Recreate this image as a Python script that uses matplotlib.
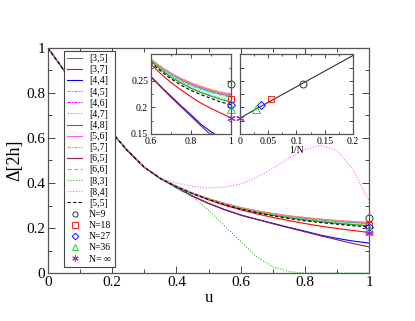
import numpy as np
import matplotlib
matplotlib.use('Agg')
from matplotlib import pyplot as plt
from matplotlib.ticker import MultipleLocator

plt.rcParams['font.family'] = ['Liberation Serif', 'DejaVu Serif']

# u grid
u = [0.0, 0.05, 0.1, 0.15, 0.2, 0.25, 0.3, 0.35, 0.4, 0.45, 0.5, 0.55, 0.6,
     0.65, 0.7, 0.75, 0.8, 0.85, 0.9, 0.95, 1.0]

# common part of all curves (u = 0 .. 0.35)
head = [1.0, 0.90, 0.805, 0.712, 0.622, 0.54, 0.47, 0.42]

# tails (u = 0.4 .. 1.0)
t35 = [0.385, 0.355, 0.33, 0.308, 0.290, 0.275, 0.263, 0.252, 0.243, 0.236, 0.230, 0.225, 0.221]
t37 = [0.384, 0.352, 0.325, 0.301, 0.281, 0.263, 0.247, 0.233, 0.220, 0.208, 0.198, 0.189, 0.180]
t44 = [0.380, 0.342, 0.310, 0.282, 0.258, 0.239, 0.221, 0.203, 0.186, 0.168, 0.154, 0.142, 0.133]
t45 = [0.385, 0.355, 0.33, 0.308, 0.289, 0.274, 0.261, 0.250, 0.241, 0.234, 0.228, 0.223, 0.219]
t46 = [0.385, 0.355, 0.33, 0.309, 0.290, 0.276, 0.264, 0.254, 0.245, 0.238, 0.232, 0.227, 0.224]
t47 = [0.385, 0.354, 0.329, 0.307, 0.288, 0.272, 0.259, 0.248, 0.238, 0.230, 0.223, 0.218, 0.214]
t48 = [0.385, 0.354, 0.329, 0.306, 0.287, 0.271, 0.257, 0.246, 0.236, 0.228, 0.221, 0.215, 0.210]
t56 = [0.385, 0.355, 0.33, 0.309, 0.291, 0.276, 0.264, 0.254, 0.246, 0.239, 0.233, 0.228, 0.225]
t57 = [0.385, 0.355, 0.33, 0.309, 0.291, 0.277, 0.265, 0.255, 0.247, 0.240, 0.234, 0.229, 0.226]
t65 = [0.380, 0.341, 0.309, 0.281, 0.257, 0.238, 0.219, 0.201, 0.183, 0.165, 0.148, 0.131, 0.116]
t66 = [0.385, 0.355, 0.33, 0.308, 0.290, 0.275, 0.263, 0.252, 0.244, 0.237, 0.231, 0.226, 0.222]
t83 = [0.378, 0.338, 0.28, 0.21, 0.14, 0.072, 0.028, 0.006, 0.0, 0.0, 0.0, 0.0, 0.0]
t84 = [0.400, 0.385, 0.378, 0.382, 0.395, 0.425, 0.465, 0.510, 0.548, 0.568, 0.545, 0.460, 0.320]
t55 = [0.384, 0.353, 0.327, 0.304, 0.284, 0.268, 0.254, 0.242, 0.232, 0.224, 0.217, 0.210, 0.205]

labels = ['[3,5]', '[3,7]', '[4,4]', '[4,5]', '[4,6]', '[4,7]', '[4,8]',
          '[5,6]', '[5,7]', '[6,5]', '[6,6]', '[8,3]', '[8,4]', '[5,5]']
tails = [t35, t37, t44, t45, t46, t47, t48, t56, t57, t65, t66, t83, t84, t55]
colors = ['#6e6e6e', '#ff0000', '#0000ff', '#00e0ee', '#ff00ff', '#66ee66', '#1f9a1f',
          '#ff55ff', '#ffa500', '#8b2252', '#bc9a9a', '#33bb33', '#ff66ff', '#000000']
styles = ['-', '-', '-', (0, (3, 1, 1, 1)), (0, (3, 1, 1, 1)), (0, (2, 1)), '-',
          '-', (0, (3, 1, 1, 1)), '-', (0, (4, 2)), (0, (1, 1.5)), (0, (1, 1.5)), (0, (3, 2))]

# finite size points at u = 1
N = [9, 18, 27, 36]
gap_N = [0.245, 0.215, 0.205, 0.196]
gap_inf = 0.180
mk_labels = ['N=9', 'N=18', 'N=27', 'N=36', 'N= ∞']
mk_styles = ['o', 's', 'D', '^', (6, 2, 0)]
mk_colors = ['#333333', '#ff2020', '#1010ff', '#22dd22', '#9933cc']
mk_sizes = [5, 5, 4.5, 5.5, 6]

# extrapolation line in 1/N
fit_x = [0.0, 0.2]
fit_y = [0.180, 0.298]

fig = plt.figure(figsize=(4.15, 3.21), dpi=100)
ax = fig.add_axes([0.1157, 0.1495, 0.7735, 0.701])


def style_axes(a, lab=8.5, maj=4, mnr=2):
    a.tick_params(which='both', direction='in', top=True, right=True, labelsize=lab,
                  width=0.7, color='#444444', pad=2)
    a.tick_params(which='major', length=maj)
    a.tick_params(which='minor', length=mnr)
    for s in a.spines.values():
        s.set_linewidth(0.9)
        s.set_color('#555555')


for lab, tl, c, ls in zip(labels, tails, colors, styles):
    ax.plot(u, head + tl, color=c, ls=ls, lw=0.8, label=lab)
for i in range(4):
    ax.plot([1.0], [gap_N[i]], ls='none', marker=mk_styles[i], mfc='none',
            mec=mk_colors[i], mew=0.7, ms=mk_sizes[i], label=mk_labels[i], clip_on=False)
ax.plot([1.0], [gap_inf], ls='none', marker=mk_styles[4], color=mk_colors[4],
        mew=0.8, ms=mk_sizes[4], label=mk_labels[4], clip_on=False)

ax.set_xlim(0, 1)
ax.set_ylim(0, 1)
ax.set_xticks([0, 0.2, 0.4, 0.6, 0.8, 1.0], ['0', '0.2', '0.4', '0.6', '0.8', '1'])
ax.set_yticks([0, 0.2, 0.4, 0.6, 0.8, 1.0], ['0', '0.2', '0.4', '0.6', '0.8', '1'])
ax.xaxis.set_minor_locator(MultipleLocator(0.1))
ax.yaxis.set_minor_locator(MultipleLocator(0.1))
style_axes(ax, lab=11, maj=5, mnr=3)
ax.set_xlabel('u', fontsize=12, labelpad=1)
ax.set_ylabel('Δ[2h]', fontsize=13, labelpad=2)

leg = ax.legend(loc='upper left', bbox_to_anchor=(0.05, 0.988), borderaxespad=0,
                fontsize=7, labelspacing=0.22, handlelength=1.5, handletextpad=0.7,
                borderpad=0.35, fancybox=False, framealpha=1, edgecolor='#444444',
                markerscale=0.75)
leg.get_frame().set_linewidth(0.8)

# left inset: zoom of the curves
ax1 = fig.add_axes([0.3639, 0.583, 0.1928, 0.2475])
for tl, c, ls in zip(tails, colors, styles):
    ax1.plot(u, head + tl, color=c, ls=ls, lw=0.8)
for i in range(4):
    ax1.plot([1.0], [gap_N[i]], ls='none', marker=mk_styles[i], mfc='none',
             mec=mk_colors[i], mew=0.7, ms=mk_sizes[i], clip_on=False)
ax1.plot([1.0], [gap_inf], ls='none', marker=mk_styles[4], color=mk_colors[4],
         mew=0.8, ms=mk_sizes[4], clip_on=False)
ax1.set_xlim(0.6, 1)
ax1.set_ylim(0.15, 0.3)
ax1.set_xticks([0.6, 0.8, 1.0], ['0.6', '0.8', '1'])
ax1.set_yticks([0.15, 0.2, 0.25], ['0.15', '0.2', '0.25'])
ax1.xaxis.set_minor_locator(MultipleLocator(0.1))
ax1.yaxis.set_minor_locator(MultipleLocator(0.025))
style_axes(ax1, lab=7, maj=3, mnr=1.5)

# right inset: extrapolation in 1/N
ax2 = fig.add_axes([0.5783, 0.583, 0.2723, 0.2475])
ax2.plot(fit_x, fit_y, color='#333333', lw=0.8)
for i in range(4):
    ax2.plot([1.0 / N[i]], [gap_N[i]], ls='none', marker=mk_styles[i], mfc='none',
             mec=mk_colors[i], mew=0.7, ms=mk_sizes[i], clip_on=False)
ax2.plot([0.0], [gap_inf], ls='none', marker=mk_styles[4], color=mk_colors[4],
         mew=0.8, ms=mk_sizes[4], clip_on=False)
ax2.set_xlim(0, 0.2)
ax2.set_ylim(0.15, 0.3)
ax2.set_xticks([0, 0.05, 0.1, 0.15, 0.2], ['0', '0.05', '0.1', '0.15', '0.2'])
ax2.xaxis.set_minor_locator(MultipleLocator(0.025))
ax2.yaxis.set_major_locator(MultipleLocator(0.025))
ax2.set_yticklabels([])
style_axes(ax2, lab=7, maj=3, mnr=1.5)
ax2.set_xlabel('1/N', fontsize=7, labelpad=0)

fig.savefig('out.png', dpi=100)
